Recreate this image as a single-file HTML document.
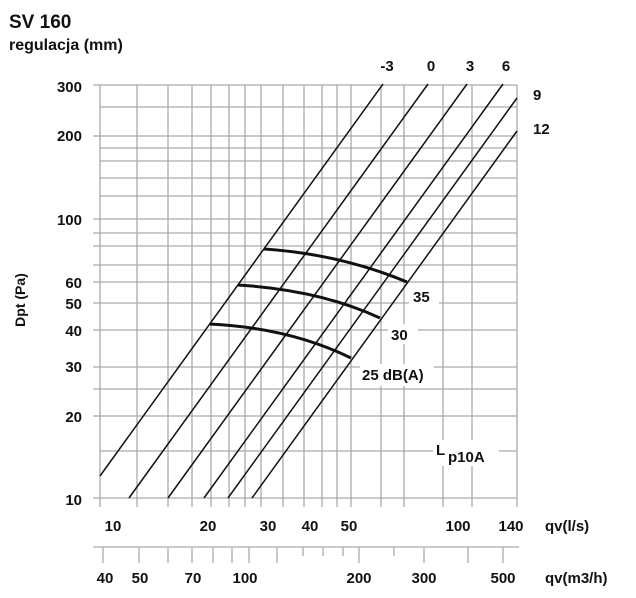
<!DOCTYPE html><html><head><style>body{margin:0;background:#fff}svg{display:block}text{font-family:"Liberation Sans",sans-serif;font-weight:bold;fill:#111}</style></head><body>
<svg width="636" height="598" viewBox="0 0 636 598">
<g stroke="#aaa" stroke-width="1.3">
<line x1="93" y1="85" x2="517" y2="85"/><line x1="100" y1="107" x2="517" y2="107"/><line x1="93" y1="136" x2="517" y2="136"/><line x1="100" y1="148" x2="517" y2="148"/><line x1="100" y1="161" x2="517" y2="161"/><line x1="100" y1="178" x2="517" y2="178"/><line x1="100" y1="196" x2="517" y2="196"/><line x1="93" y1="219" x2="517" y2="219"/><line x1="93" y1="233" x2="517" y2="233"/><line x1="93" y1="246" x2="517" y2="246"/><line x1="93" y1="265" x2="517" y2="265"/><line x1="93" y1="282" x2="517" y2="282"/><line x1="93" y1="303" x2="517" y2="303"/><line x1="93" y1="330" x2="517" y2="330"/><line x1="93" y1="367" x2="517" y2="367"/><line x1="93" y1="389" x2="517" y2="389"/><line x1="93" y1="416" x2="517" y2="416"/><line x1="100" y1="451" x2="517" y2="451"/><line x1="93" y1="498" x2="517" y2="498"/>
<line x1="100" y1="85" x2="100" y2="507"/><line x1="137" y1="85" x2="137" y2="507"/><line x1="168" y1="85" x2="168" y2="507"/><line x1="192" y1="85" x2="192" y2="507"/><line x1="211" y1="85" x2="211" y2="507"/><line x1="229" y1="85" x2="229" y2="507"/><line x1="245" y1="85" x2="245" y2="507"/><line x1="261" y1="85" x2="261" y2="507"/><line x1="283" y1="85" x2="283" y2="507"/><line x1="304" y1="85" x2="304" y2="507"/><line x1="322" y1="85" x2="322" y2="507"/><line x1="337" y1="85" x2="337" y2="507"/><line x1="351" y1="85" x2="351" y2="507"/><line x1="381" y1="85" x2="381" y2="507"/><line x1="404" y1="85" x2="404" y2="507"/><line x1="443" y1="85" x2="443" y2="507"/><line x1="472" y1="85" x2="472" y2="507"/><line x1="517" y1="85" x2="517" y2="507"/>
<line x1="93" y1="547" x2="519" y2="547"/>
<line x1="103" y1="547" x2="103" y2="563"/><line x1="139" y1="547" x2="139" y2="563"/><line x1="168" y1="547" x2="168" y2="563"/><line x1="192" y1="547" x2="192" y2="563"/><line x1="213" y1="547" x2="213" y2="563"/><line x1="232" y1="547" x2="232" y2="563"/><line x1="249" y1="547" x2="249" y2="563"/><line x1="277" y1="547" x2="277" y2="563"/><line x1="303" y1="547" x2="303" y2="556"/><line x1="323" y1="547" x2="323" y2="556"/><line x1="343" y1="547" x2="343" y2="556"/><line x1="359" y1="547" x2="359" y2="563"/><line x1="394" y1="547" x2="394" y2="556"/><line x1="424" y1="547" x2="424" y2="563"/><line x1="468" y1="547" x2="468" y2="563"/><line x1="503" y1="547" x2="503" y2="563"/>
</g>
<g fill="#fff">
<rect x="409" y="286" width="30" height="20"/><rect x="388" y="324" width="30" height="20"/><rect x="360" y="364" width="74" height="22"/><rect x="433" y="440" width="66" height="26"/>
</g>
<g stroke="#111" stroke-width="1.5">
<line x1="100" y1="476" x2="383" y2="84"/><line x1="129" y1="498" x2="428" y2="84"/><line x1="168" y1="498" x2="467" y2="84"/><line x1="204" y1="498" x2="503" y2="84"/><line x1="228" y1="498" x2="517" y2="98"/><line x1="252" y1="498" x2="517" y2="131"/>
</g>
<g stroke="#111" stroke-width="3" fill="none">
<path d="M264 249 Q340 254 407 282"/><path d="M238 285 Q320 290 380 318"/><path d="M210 324 Q290 328 351 358"/>
</g>
<g font-size="15">
<text x="9" y="28" font-size="19">SV 160</text>
<text x="9" y="50" font-size="16">regulacja (mm)</text>
<g text-anchor="end"><text x="82" y="92">300</text><text x="82" y="141">200</text><text x="82" y="225">100</text><text x="82" y="288">60</text><text x="82" y="309">50</text><text x="82" y="336">40</text><text x="82" y="372">30</text><text x="82" y="422">20</text><text x="82" y="505">10</text></g>
<text transform="translate(25,300) rotate(-90)" text-anchor="middle" font-size="14">Dpt (Pa)</text>
<g text-anchor="middle"><text x="387" y="71">-3</text><text x="431" y="71">0</text><text x="470" y="71">3</text><text x="506" y="71">6</text></g>
<text x="533" y="100">9</text><text x="533" y="134">12</text>
<text x="413" y="302">35</text><text x="391" y="340">30</text><text x="362" y="380">25 dB(A)</text>
<text x="436" y="455">L</text><text x="448" y="462">p10A</text>
<g text-anchor="middle"><text x="113" y="531">10</text><text x="208" y="531">20</text><text x="268" y="531">30</text><text x="310" y="531">40</text><text x="349" y="531">50</text><text x="458" y="531">100</text><text x="511" y="531">140</text>
<text x="105" y="583">40</text><text x="140" y="583">50</text><text x="193" y="583">70</text><text x="245" y="583">100</text><text x="359" y="583">200</text><text x="424" y="583">300</text><text x="503" y="583">500</text></g>
<text x="545" y="531">qv(l/s)</text><text x="545" y="583">qv(m3/h)</text>
</g>
</svg></body></html>
